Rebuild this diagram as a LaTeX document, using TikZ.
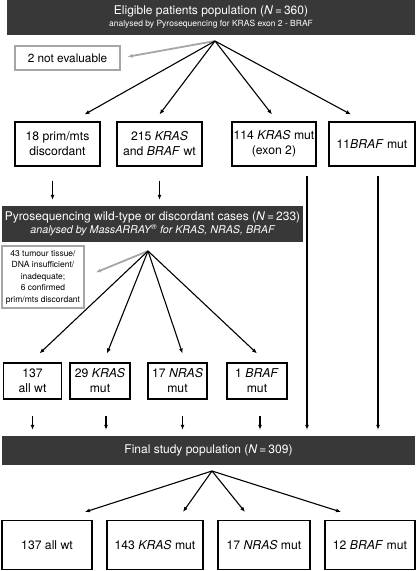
\documentclass[tikz,border=0pt]{standalone}
\usepackage{fontspec}
\setmainfont{TeX Gyre Heros}
\usetikzlibrary{arrows.meta, calc, positioning}

\begin{document}
\begin{tikzpicture}[x=1pt, y=-1pt,
    dark/.style={fill=black!78, text=white, inner sep=0pt, align=center},
    box/.style={draw, line width=1.1pt, inner sep=0pt, align=center, font=\fontsize{12.2}{15}\selectfont},
    greybox/.style={draw=black!35, line width=1.3pt, inner sep=0pt, align=center},
    arr/.style={-{Latex[length=5pt,width=4pt]}, line width=1.1pt},
    garr/.style={arr, draw=black!35, line width=1.8pt}]

\useasboundingbox (0,0) rectangle (418,571);

% first screening
\node[dark, minimum width=408, minimum height=35] (elig) at (211,17.5)
    {{\fontsize{12}{13}\selectfont Eligible patients population (\textit{N}\,=\,360)}\\[0pt]
     {\fontsize{8.5}{9}\selectfont analysed by Pyrosequencing for KRAS exon 2 - BRAF}};
\coordinate (f1) at (215,41);
\node[greybox, minimum width=105, minimum height=24, font=\fontsize{11.8}{13}\selectfont] (noteval) at (67.5,58) {2 not evaluable};

\node[box, minimum width=85, minimum height=44] (disc) at (57.5,144) {18 prim/mts\\discordant};
\node[box, minimum width=85, minimum height=44] (wt) at (159.5,144) {215 \textit{KRAS}\\and \textit{BRAF} wt};
\node[box, minimum width=84, minimum height=44] (kras) at (274,144) {114 \textit{KRAS} mut\\(exon 2)};
\node[box, minimum width=86, minimum height=44] (braf) at (372,144) {11\textit{BRAF} mut};

% second screening
\node[dark, minimum width=301, minimum height=36] (mass) at (152.5,224)
    {{\fontsize{12}{12}\selectfont Pyrosequencing wild-type or discordant cases (\textit{N}\,=\,233)}\\[1pt]
     {\fontsize{10.7}{11}\selectfont\itshape analysed by MassARRAY\textsuperscript{\textregistered} for KRAS, NRAS, BRAF}};
\coordinate (f2) at (148,251);
\node[greybox, minimum width=82, minimum height=62, font=\fontsize{8.5}{11.5}\selectfont] (notdna) at (43,277)
    {43 tumour tissue/\\DNA insufficient/\\inadequate;\\6 confirmed\\prim/mts discordant};

\node[box, minimum width=58, minimum height=36] (allwt) at (32.5,381) {137\\all wt};
\node[box, minimum width=60, minimum height=36] (k29) at (100,381) {29 \textit{KRAS}\\mut};
\node[box, minimum width=59, minimum height=36] (n17) at (177.5,381) {17 \textit{NRAS}\\mut};
\node[box, minimum width=60, minimum height=36] (b1) at (257,381) {1 \textit{BRAF}\\mut};

% final population
\node[dark, minimum width=413, minimum height=29, font=\fontsize{12}{14}\selectfont] (final) at (208.5,450.5)
    {Final study population (\textit{N}\,=\,309)};
\coordinate (f3) at (212,471);

\node[box, minimum width=90, minimum height=49] (fwt) at (47,545) {137 all wt};
\node[box, minimum width=96, minimum height=49] (fkras) at (155,545) {143 \textit{KRAS} mut};
\node[box, minimum width=92, minimum height=49] (fnras) at (264,545) {17 \textit{NRAS} mut};
\node[box, minimum width=90, minimum height=49] (fbraf) at (370,545) {12 \textit{BRAF} mut};

\draw[garr, shorten >=7pt] (f1) -- (noteval.east);
\draw[arr] (f1) -- ($(disc.north)+(27,-7)$);
\draw[arr] (f1) -- ($(wt.north)+(0,-7)$);
\draw[arr] (f1) -- ($(kras.north)+(-2,-7)$);
\draw[arr] (f1) -- ($(braf.north)+(-21,-7)$);

\draw[arr] ($(disc.south)+(-5,14)$) -- ($(disc.south |- mass.north)+(-5,-6)$);
\draw[arr] ($(wt.south)+(0,14)$) -- ($(wt.south |- mass.north)+(0,-6)$);
\draw[arr] ($(kras.south)+(33,9)$) -- ($(kras.south |- final.north)+(33,-6)$);
\draw[arr] ($(braf.south)+(6,9)$) -- ($(braf.south |- final.north)+(6,-6)$);

\draw[garr, shorten >=12pt] (f2) -- (notdna.east);
\draw[arr] (f2) -- ($(allwt.north)+(7,-9)$);
\draw[arr] (f2) -- ($(k29.north)+(7,-9)$);
\draw[arr] (f2) -- ($(n17.north)+(5,-9)$);
\draw[arr] (f2) -- ($(b1.north)+(0,-9)$);

\draw[arr] ($(allwt.south)+(0,16)$) -- ($(allwt.south |- final.north)+(0,-6)$);
\draw[arr] ($(k29.south)+(6,16)$) -- ($(k29.south |- final.north)+(6,-6)$);
\draw[arr] ($(n17.south)+(5,16)$) -- ($(n17.south |- final.north)+(5,-6)$);
\draw[arr] ($(b1.south)+(3,16)$) -- ($(b1.south |- final.north)+(3,-6)$);

\draw[arr] (f3) -- ($(fwt.north)+(38,-8)$);
\draw[arr] (f3) -- ($(fkras.north)+(28,-8)$);
\draw[arr] (f3) -- ($(fnras.north)+(-19,-8)$);
\draw[arr] (f3) -- ($(fbraf.north)+(-29,-8)$);
\end{tikzpicture}
\end{document}
